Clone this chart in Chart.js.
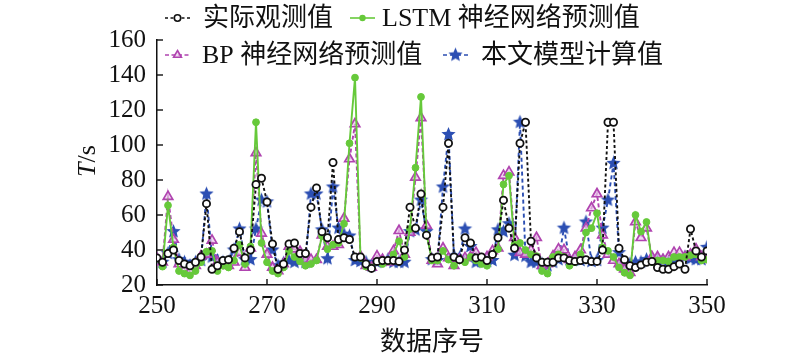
<!DOCTYPE html>
<html>
<head>
<meta charset="utf-8">
<script src="https://cdn.jsdelivr.net/npm/chart.js@4.4.1/dist/chart.umd.min.js"></script>
<style>
html,body{margin:0;padding:0;background:#fff;}
#wrap{width:800px;height:358px;position:relative;}
</style>
</head>
<body>
<div id="wrap"><canvas id="c" width="800" height="358"></canvas></div>
<script>
// ---- data ----
const startIndex = 250;
const endIndex = 350;
const xTicks = [250, 270, 290, 310, 330, 350];
const yTicks = [20, 40, 60, 80, 100, 120, 140, 160];

const actual = [35.5,33,38,40,34,32,31,33,36,66.5,29,31,34,34.5,41,50.5,35.5,40,77.5,81,67.5,43.5,29,32,43.5,44,38,38,64.5,75.5,50.5,47,90,46,47,46,36,36,32,29.5,33.5,34,34,34,33.5,40,64.5,52.5,72,48.5,35.5,36,64.5,101,36,34.5,47,44,35.5,36,34,37.5,47,68.5,52.5,41,101,113,45,35.5,33,33,33,35.5,35.5,34,33.5,34,34.5,33.5,33.5,40,113,113,41,34.5,31,30,31.5,33,33.5,30,29,29,30.5,32,29,52,39.5,36,39.5];
const lstm = [35,30.5,65.5,41.5,28,26.5,25.5,28,33,39,39.5,28,31,30,34,43,32,42,113,44,33,28,26.5,30,39.5,36,33.5,31,32,34,48,40.5,43,44,55,101,138.5,35.5,30.5,30,33.5,32,33.5,37.5,45,36,52,87,127.5,49,34,34,39.5,34.5,31,34,33,36,34,32,31,37.5,40.5,77.5,82.5,43,44,40,37.5,36.5,28,26.5,36,37.5,36,31,33,37.5,50,52.5,61,41.5,39.5,36,30,27,25.5,60,50.5,56,33,34,34,33.5,36,36,36,37,37.5,34,34.5];
const bp = [35,33,70.5,46,32,29,28,31,36.5,37.5,45.5,33,32,31,33,38.5,30,41,95.5,49.5,37.5,30,28,32,42,40.5,39,34.5,34.5,34.5,48.5,42,42,43,58,92,112,36.5,31,30,36.5,34.5,33,39.5,51,37.5,50,81.5,115.5,54,34,32,41,35.5,31,34.5,35.5,36,38.5,34.5,36,39.5,41,82.5,84.5,47,38.5,37.5,40,47,31,32,36.5,40.5,40,34.5,36,40,52.5,64,72,48.5,37.5,34,32,29,27,56,47,52.5,36,36,34.5,36,38.5,38.5,36,37.5,40.5,36,34.5];
const model = [34.5,33,38,50.5,34.5,33,31,33,34,72,36,34,33,33,40,52,34.5,34.5,52,68.5,67.5,40,31,32.5,34,33,34,33,72,72,51.5,35,76,52.5,49,48,34,33.5,33,31,33,34,34.5,33,33,33,50.5,51.5,68.5,50.5,34.5,34,76,106,36.5,35.5,52,42,33,33.5,33.5,34,51.5,50.5,55,37,113,36.5,33,33,32,31,33,34.5,52.5,34.5,34.5,34,56,33.5,34,52.5,68.5,89.5,38.5,32,32,33,33,34.5,34.5,34,34,33.5,34,34,36,35,34.5,34.5,41.5];

const seriesNames = ['实际观测值', 'LSTM 神经网络预测值', 'BP 神经网络预测值', '本文模型计算值'];
const xTitle = '数据序号';

// ---- styles ----
const C_BLACK = '#111111', C_GREEN = '#66c93a', C_PURPLE = '#b044b0', C_BLUE = '#2c4fb3';

function makeStar(r, color) {
  const s = Math.ceil(2 * r + 2);
  const c = document.createElement('canvas');
  c.width = s; c.height = s;
  const g = c.getContext('2d');
  g.beginPath();
  for (let i = 0; i < 10; i++) {
    const rad = i % 2 === 0 ? r : r * 0.45;
    const a = -Math.PI / 2 + i * Math.PI / 5;
    const px = s / 2 + rad * Math.cos(a), py = s / 2 + rad * Math.sin(a);
    if (i === 0) g.moveTo(px, py); else g.lineTo(px, py);
  }
  g.closePath();
  g.fillStyle = color; g.fill();
  return c;
}
const starImg = makeStar(7.5, C_BLUE);

function toPoints(arr) { return arr.map((v, i) => ({ x: startIndex + i, y: v })); }

const datasets = [
  { label: seriesNames[0], data: toPoints(actual), borderColor: C_BLACK, borderWidth: 1.9, borderDash: [3, 2.5],
    pointStyle: 'circle', pointRadius: 3.6, pointBorderWidth: 1.8, pointBorderColor: C_BLACK, pointBackgroundColor: '#ffffff' },
  { label: seriesNames[1], data: toPoints(lstm), borderColor: C_GREEN, borderWidth: 1.9,
    pointStyle: 'circle', pointRadius: 3.4, pointBorderWidth: 1, pointBorderColor: C_GREEN, pointBackgroundColor: C_GREEN },
  { label: seriesNames[2], data: toPoints(bp), borderColor: C_PURPLE, borderWidth: 1.9, borderDash: [4, 2.5],
    pointStyle: 'triangle', pointRadius: 5.5, pointBorderWidth: 1.7, pointBorderColor: C_PURPLE, pointBackgroundColor: 'rgba(235,200,235,0.7)' },
  { label: seriesNames[3], data: toPoints(model), borderColor: C_BLUE, borderWidth: 1.9, borderDash: [4, 3],
    pointStyle: starImg, pointRadius: 6, pointBorderColor: C_BLUE, pointBackgroundColor: C_BLUE }
];

const serif = '"Liberation Serif", "Times New Roman", serif';
const mixed = '"Liberation Serif", "Noto Sans CJK SC", serif';

const decor = {
  id: 'decor',
  afterDraw(chart) {
    const ctx = chart.ctx;
    const xs = chart.scales.x, ys = chart.scales.y;
    const ca = chart.chartArea;
    ctx.save();
    // inward ticks
    ctx.strokeStyle = '#111'; ctx.lineWidth = 1.4;
    xs.ticks.forEach((t, i) => {
      const px = xs.getPixelForTick(i);
      ctx.beginPath(); ctx.moveTo(px, ca.bottom); ctx.lineTo(px, ca.bottom - 6); ctx.stroke();
    });
    ys.ticks.forEach((t, i) => {
      const py = ys.getPixelForTick(i);
      ctx.beginPath(); ctx.moveTo(ca.left, py); ctx.lineTo(ca.left + 6, py); ctx.stroke();
    });
    // y title  T/s
    ctx.fillStyle = '#111';
    ctx.translate(88, 161);
    ctx.rotate(-Math.PI / 2);
    ctx.textBaseline = 'middle';
    ctx.font = 'italic 26px ' + serif;
    const wT = ctx.measureText('T').width;
    ctx.font = '26px ' + serif;
    const wS = ctx.measureText('/s').width;
    const x0 = -(wT + wS) / 2;
    ctx.font = 'italic 26px ' + serif;
    ctx.textAlign = 'left';
    ctx.fillText('T', x0, 0);
    ctx.font = '26px ' + serif;
    ctx.fillText('/s', x0 + wT, 0);
    ctx.restore();

    ctx.save();
    ctx.fillStyle = '#111';
    ctx.font = '26px "Noto Sans CJK SC", sans-serif';
    ctx.textAlign = 'center'; ctx.textBaseline = 'middle';
    ctx.fillText(xTitle, (ca.left + ca.right) / 2, 340);
    ctx.restore();

    // legend
    const items = [
      { x: 165, y: 18, tx: 203, ds: 0 },
      { x: 350, y: 18, tx: 382, ds: 1 },
      { x: 165, y: 55, tx: 202, ds: 2 },
      { x: 443, y: 55, tx: 481, ds: 3 }
    ];
    items.forEach(it => {
      const d = chart.data.datasets[it.ds];
      ctx.save();
      ctx.strokeStyle = d.borderColor; ctx.lineWidth = 1.6;
      ctx.setLineDash(d.borderDash || []);
      ctx.beginPath(); ctx.moveTo(it.x, it.y); ctx.lineTo(it.x + 25, it.y); ctx.stroke();
      ctx.setLineDash([]);
      const mx = it.x + 12.5, my = it.y;
      if (it.ds === 0) {
        ctx.fillStyle = '#fff'; ctx.lineWidth = 1.6; ctx.strokeStyle = C_BLACK;
        ctx.beginPath(); ctx.arc(mx, my, 3.2, 0, Math.PI * 2); ctx.fill(); ctx.stroke();
      } else if (it.ds === 1) {
        ctx.fillStyle = C_GREEN;
        ctx.beginPath(); ctx.arc(mx, my, 3.2, 0, Math.PI * 2); ctx.fill();
      } else if (it.ds === 2) {
        ctx.fillStyle = 'rgba(235,200,235,0.7)'; ctx.strokeStyle = C_PURPLE; ctx.lineWidth = 1.6;
        const r = 4.5;
        ctx.beginPath();
        ctx.moveTo(mx, my - r); ctx.lineTo(mx + r * 0.866, my + r * 0.5); ctx.lineTo(mx - r * 0.866, my + r * 0.5);
        ctx.closePath(); ctx.fill(); ctx.stroke();
      } else {
        ctx.drawImage(starImg, mx - starImg.width / 2, my - starImg.height / 2);
      }
      ctx.fillStyle = '#111';
      ctx.font = '26px ' + mixed;
      ctx.textAlign = 'left'; ctx.textBaseline = 'middle';
      ctx.fillText(d.label, it.tx, it.y + 1);
      ctx.restore();
    });
  }
};

new Chart(document.getElementById('c'), {
  type: 'line',
  data: { datasets },
  options: {
    responsive: false,
    animation: false,
    layout: { padding: { left: 0, right: 93, top: 40, bottom: 0 } },
    plugins: { legend: { display: false }, tooltip: { enabled: false } },
    elements: { line: { tension: 0 } },
    scales: {
      x: {
        type: 'linear', min: startIndex, max: endIndex,
        afterBuildTicks: s => { s.ticks = xTicks.map(v => ({ value: v })); },
        afterFit: s => { s.height = 73; },
        grid: { display: true, drawOnChartArea: false, drawTicks: false },
        border: { display: true, color: '#111', width: 1.5 },
        ticks: { color: '#111', font: { family: serif, size: 25 }, padding: 6, maxRotation: 0 }
      },
      y: {
        type: 'linear', min: 20, max: 160,
        afterBuildTicks: s => { s.ticks = yTicks.map(v => ({ value: v })); },
        afterFit: s => { s.width = 157; },
        grid: { display: true, drawOnChartArea: false, drawTicks: false },
        border: { display: true, color: '#111', width: 1.5 },
        ticks: { color: '#111', font: { family: serif, size: 25 }, padding: 11 }
      }
    }
  },
  plugins: [decor]
});
</script>
</body>
</html>
